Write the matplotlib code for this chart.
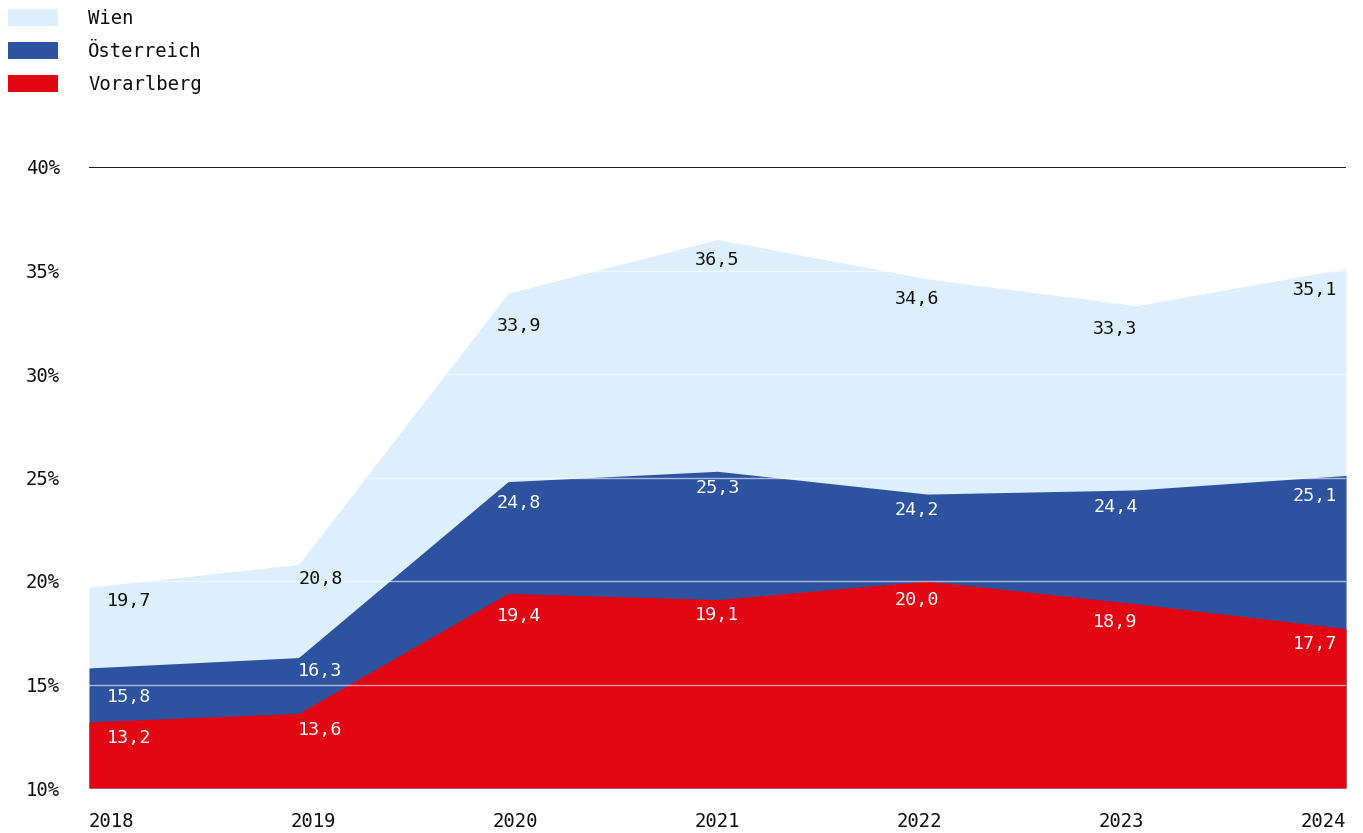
import matplotlib.pyplot as plt
from matplotlib.patches import Rectangle
import matplotlib.transforms as mtransforms

years = [2018, 2019, 2020, 2021, 2022, 2023, 2024]
wien = [19.7, 20.8, 33.9, 36.5, 34.6, 33.3, 35.1]
oesterreich = [15.8, 16.3, 24.8, 25.3, 24.2, 24.4, 25.1]
vorarlberg = [13.2, 13.6, 19.4, 19.1, 20.0, 18.9, 17.7]
y_ticks = [10, 15, 20, 25, 30, 35, 40]

series = [
    ("Wien", wien, "#DDEFFC", "#111111"),
    ("Österreich", oesterreich, "#2D52A0", "white"),
    ("Vorarlberg", vorarlberg, "#E20613", "white"),
]

# label nudges in pixels (x per year, y per series/year)
label_dx = [40, 22, 11, 0, -10, -21, -31]
label_dy = {
    "Wien": [14, 15, 33, 21, 20, 23, 22],
    "Österreich": [29, 13, 21, 17, 16, 17, 21],
    "Vorarlberg": [16, 17, 23, 15, 19, 18, 15],
}

plt.rcParams['font.family'] = ['DejaVu Sans Mono']
FS = 13.6

fig = plt.figure(figsize=(13.63, 8.33), dpi=100)
ax = fig.add_axes([89 / 1363, 1 - 788 / 833, (1346 - 89) / 1363, (788 - 167) / 833])

for name, vals, color, tcolor in series:
    ax.fill_between(years, 10, vals, color=color, linewidth=0, zorder=1)

for y in y_ticks[1:-1]:
    ax.axhline(y, color="white", lw=1, alpha=0.6, zorder=2)
ax.axhline(40, color="#1a1a1a", lw=1.4, zorder=3)

for name, vals, color, tcolor in series:
    for i, (x, v) in enumerate(zip(years, vals)):
        ax.annotate(f"{v:.1f}".replace(".", ","), (x, v),
                    xytext=(label_dx[i], -label_dy[name][i]),
                    textcoords="offset pixels", ha="center", va="center",
                    color=tcolor, fontsize=13.2, zorder=4)

ax.set_xlim(years[0], years[-1])
ax.set_ylim(10, 40)
ax.set_yticks(y_ticks)
ax.set_yticklabels([f"{t}%" for t in y_ticks], fontsize=FS, color="#111111")
ax.set_xticks(years)
ax.set_xticklabels([str(y) for y in years], fontsize=FS, color="#111111")
ax.tick_params(axis="y", length=0, pad=21)
ax.tick_params(axis="x", length=0, pad=17)
for i, lbl in enumerate(ax.get_xticklabels()):
    dx = (22.5 - 7.5 * i) / 100
    lbl.set_transform(lbl.get_transform() + mtransforms.ScaledTranslation(dx, 0, fig.dpi_scale_trans))
for s in ax.spines.values():
    s.set_visible(False)

# legend
W, H = 1363, 833
for k, (name, vals, color, tcolor) in enumerate(series):
    top = 9 + 33 * k
    fig.add_artist(Rectangle((8 / W, 1 - (top + 17) / H), 50 / W, 17 / H,
                             transform=fig.transFigure, color=color, lw=0))
    fig.text(88 / W, 1 - (top + 9.5) / H, name, ha="left", va="center",
             fontsize=FS, color="#111111")

fig.savefig("out.png", dpi=100)
